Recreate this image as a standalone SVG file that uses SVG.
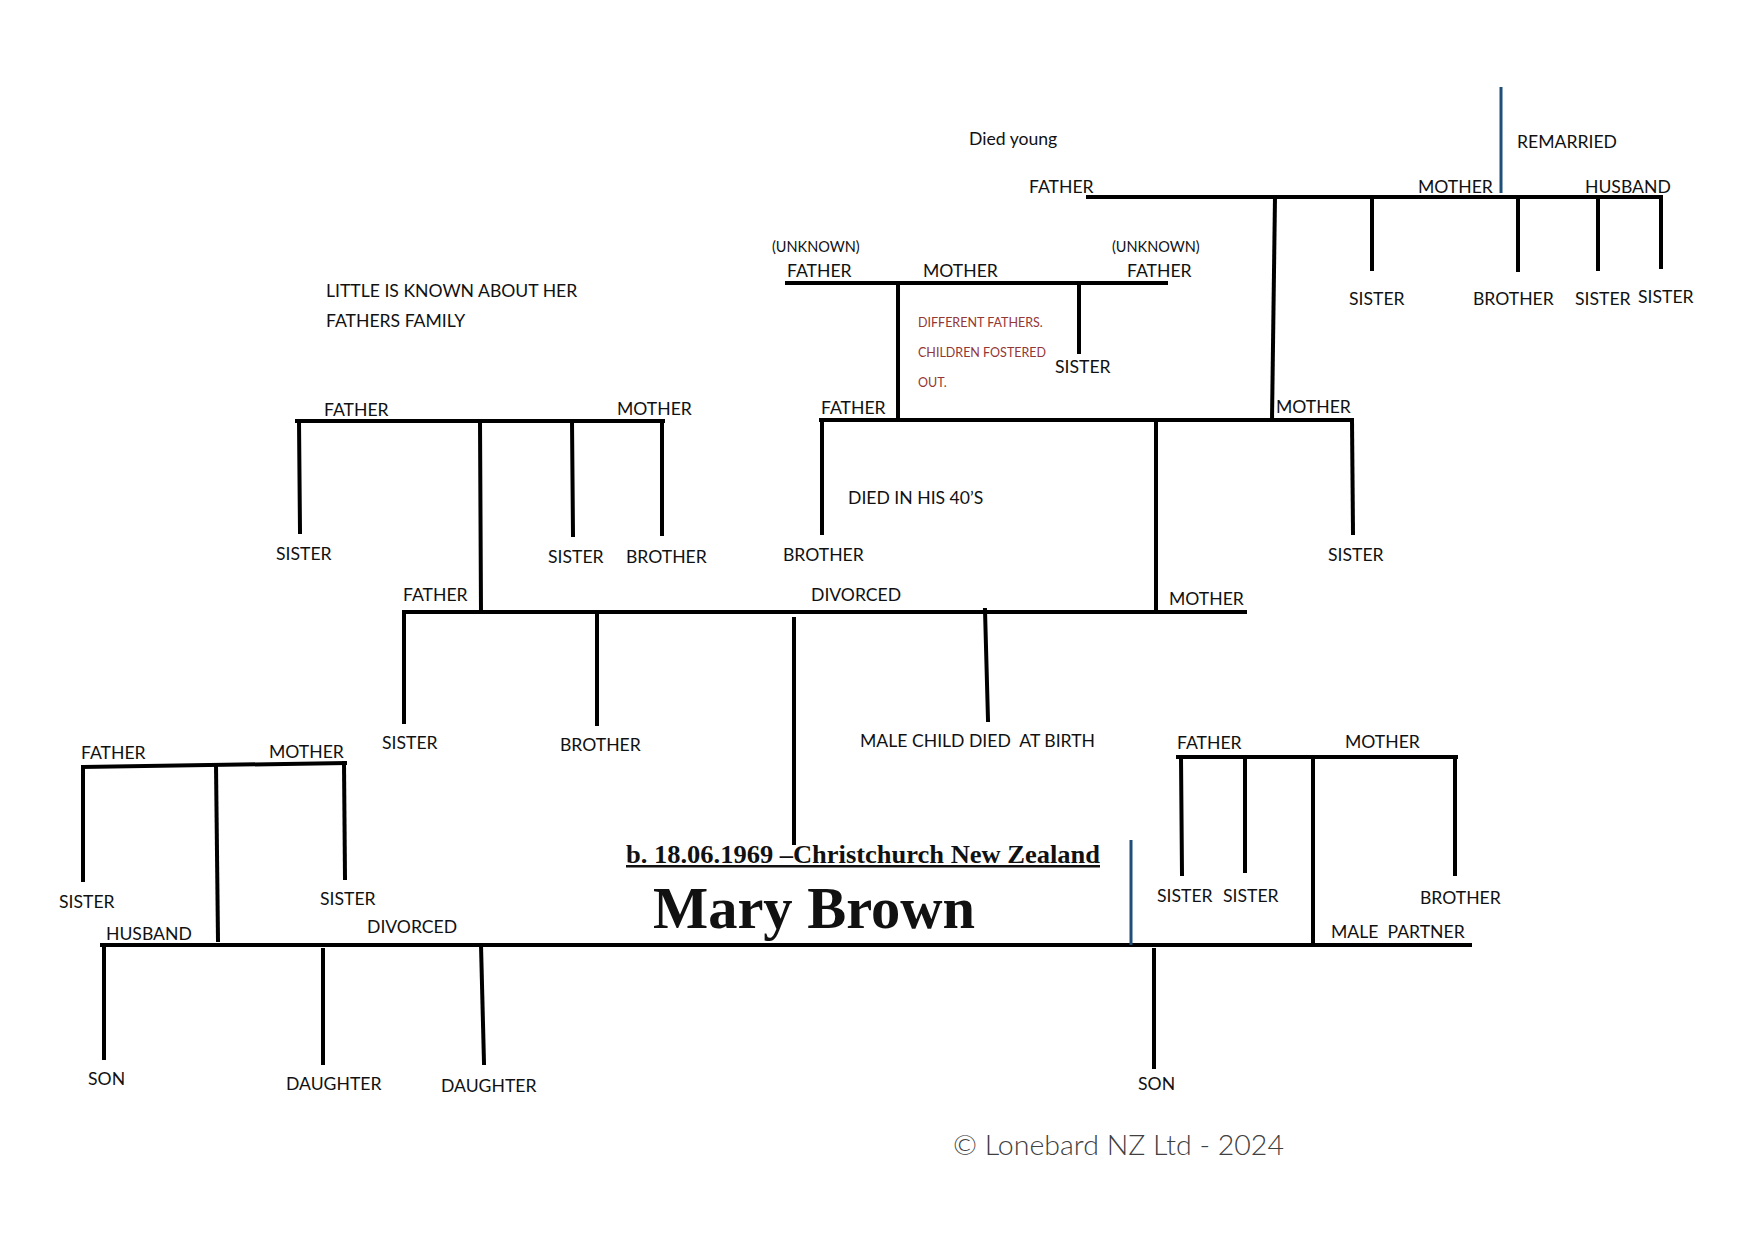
<svg xmlns="http://www.w3.org/2000/svg" width="1754" height="1240" viewBox="0 0 1754 1240">
<style>
.l{font-family:Lato,"Open Sans","Liberation Sans",sans-serif;font-size:17.6px;fill:#111}
.u{font-size:14.5px}
.r{font-size:12.5px;fill:#943634}
.c{fill:none;stroke:#000;stroke-width:4;stroke-linecap:square}
.b{fill:none;stroke:#1f4e79;stroke-width:3}
.pre{white-space:pre}
.birth{font-family:"Liberation Serif","Times New Roman",serif;font-weight:bold;font-size:25px;fill:#111;text-decoration:underline}
.name{font-family:"Liberation Serif","Times New Roman",serif;font-weight:bold;font-size:60px;fill:#111}
.copy{font-family:Lato,"Open Sans",sans-serif;font-weight:300;font-size:28px;fill:#404040}
</style>
<rect width="1754" height="1240" fill="#fff"/>
<g id="connectors">
<path class="c" d="M1088,197 H1660"/>
<path class="b" d="M1501,87 V193"/>
<path class="c" d="M1275,197 L1272,420"/>
<path class="c" d="M1372,197 V269"/>
<path class="c" d="M1518,197 V270"/>
<path class="c" d="M1598,197 V269"/>
<path class="c" d="M1661,197 V267"/>
<path class="c" d="M787,283 H1166"/>
<path class="c" d="M898,283 V420"/>
<path class="c" d="M1079,283 V352"/>
<path class="c" d="M821,420 H1352"/>
<path class="c" d="M822,420 V533"/>
<path class="c" d="M1156,420 V612"/>
<path class="c" d="M1352,420 L1353,533"/>
<path class="c" d="M297,421 H663"/>
<path class="c" d="M299,421 L300,532"/>
<path class="c" d="M480,421 L481,612"/>
<path class="c" d="M572,421 L573,535"/>
<path class="c" d="M662,421 V534"/>
<path class="c" d="M404,612 H1245"/>
<path class="c" d="M404,612 V722"/>
<path class="c" d="M597,612 V724"/>
<path class="c" d="M794,619 V843"/>
<path class="c" d="M985,610 L988,720"/>
<path class="c" d="M83,767 L345,763"/>
<path class="c" d="M83,767 V880"/>
<path class="c" d="M216,765 L218,940"/>
<path class="c" d="M344,763 L345,878"/>
<path class="c" d="M102,945 H1470"/>
<path class="c" d="M104,945 V1058"/>
<path class="c" d="M323,950 V1063"/>
<path class="c" d="M481,945 L484,1063"/>
<path class="c" d="M1154,950 V1067"/>
<path class="b" d="M1131,840 V945"/>
<path class="c" d="M1178,757 H1456"/>
<path class="c" d="M1181,757 L1182,874"/>
<path class="c" d="M1245,757 V871"/>
<path class="c" d="M1313,757 V945"/>
<path class="c" d="M1455,757 V874"/>
</g>
<g id="note-died-young"><text class="l" x="969" y="145">Died young</text></g>
<g id="note-remarried"><text class="l" x="1517" y="148">REMARRIED</text></g>
<g id="ggf-mother"><text class="l" x="1029" y="193">FATHER</text></g>
<g id="ggm-mother"><text class="l" x="1418" y="193">MOTHER</text></g>
<g id="ggm-husband"><text class="l" x="1585" y="193">HUSBAND</text></g>
<g id="gm-sister1"><text class="l" x="1349" y="305">SISTER</text></g>
<g id="gm-brother"><text class="l" x="1473" y="305">BROTHER</text></g>
<g id="gm-halfsister1"><text class="l" x="1575" y="305">SISTER</text></g>
<g id="gm-halfsister2"><text class="l" x="1638" y="303">SISTER</text></g>
<g id="ggf-father-unknown1"><text class="l u" x="772" y="252">(UNKNOWN)</text><text class="l" x="787" y="277">FATHER</text></g>
<g id="ggf-mother-node"><text class="l" x="923" y="277">MOTHER</text></g>
<g id="ggf-father-unknown2"><text class="l u" x="1112" y="252">(UNKNOWN)</text><text class="l" x="1127" y="277">FATHER</text></g>
<g id="note-different-fathers"><text class="l r" x="918" y="327">DIFFERENT FATHERS.</text><text class="l r" x="918" y="357">CHILDREN FOSTERED</text><text class="l r" x="918" y="387">OUT.</text></g>
<g id="ggf-sister"><text class="l" x="1055" y="373">SISTER</text></g>
<g id="note-little-known"><text class="l" x="326" y="297">LITTLE IS KNOWN ABOUT HER</text><text class="l" x="326" y="327">FATHERS FAMILY</text></g>
<g id="pgf-father"><text class="l" x="324" y="416">FATHER</text></g>
<g id="pgf-mother"><text class="l" x="617" y="415">MOTHER</text></g>
<g id="f-sister"><text class="l" x="276" y="560">SISTER</text></g>
<g id="f-sister2"><text class="l" x="548" y="563">SISTER</text></g>
<g id="f-brother"><text class="l" x="626" y="563">BROTHER</text></g>
<g id="mgf-father"><text class="l" x="821" y="414">FATHER</text></g>
<g id="mgm-mother"><text class="l" x="1276" y="413">MOTHER</text></g>
<g id="note-died-40s"><text class="l" x="848" y="504">DIED IN HIS 40’S</text></g>
<g id="m-brother"><text class="l" x="783" y="561">BROTHER</text></g>
<g id="m-sister"><text class="l" x="1328" y="561">SISTER</text></g>
<g id="father"><text class="l" x="403" y="601">FATHER</text></g>
<g id="note-divorced1"><text class="l" x="811" y="601">DIVORCED</text></g>
<g id="mother"><text class="l" x="1169" y="605">MOTHER</text></g>
<g id="sib-sister"><text class="l" x="382" y="749">SISTER</text></g>
<g id="sib-brother"><text class="l" x="560" y="751">BROTHER</text></g>
<g id="sib-male-child"><text class="l pre" x="860" y="747">MALE CHILD DIED  AT BIRTH</text></g>
<g id="h-father"><text class="l" x="81" y="759">FATHER</text></g>
<g id="h-mother"><text class="l" x="269" y="758">MOTHER</text></g>
<g id="h-sister1"><text class="l" x="59" y="908">SISTER</text></g>
<g id="h-sister2"><text class="l" x="320" y="905">SISTER</text></g>
<g id="husband"><text class="l" x="106" y="940">HUSBAND</text></g>
<g id="note-divorced2"><text class="l" x="367" y="933">DIVORCED</text></g>
<g id="son1"><text class="l" x="88" y="1085">SON</text></g>
<g id="daughter1"><text class="l" x="286" y="1090">DAUGHTER</text></g>
<g id="daughter2"><text class="l" x="441" y="1092">DAUGHTER</text></g>
<g id="mary-brown"><text class="birth" x="626" y="863" textLength="474" lengthAdjust="spacingAndGlyphs">b. 18.06.1969 –Christchurch New Zealand</text><text class="name" x="653" y="928" textLength="322" lengthAdjust="spacingAndGlyphs">Mary Brown</text></g>
<g id="p-father"><text class="l" x="1177" y="749">FATHER</text></g>
<g id="p-mother"><text class="l" x="1345" y="748">MOTHER</text></g>
<g id="p-sisters"><text class="l" x="1157" y="902">SISTER</text><text class="l" x="1223" y="902">SISTER</text></g>
<g id="p-brother"><text class="l" x="1420" y="904">BROTHER</text></g>
<g id="partner"><text class="l pre" x="1331" y="938">MALE  PARTNER</text></g>
<g id="son2"><text class="l" x="1138" y="1090">SON</text></g>
<g id="copyright"><text class="copy" x="953" y="1155" textLength="331" lengthAdjust="spacingAndGlyphs">© Lonebard NZ Ltd - 2024</text></g>
</svg>
